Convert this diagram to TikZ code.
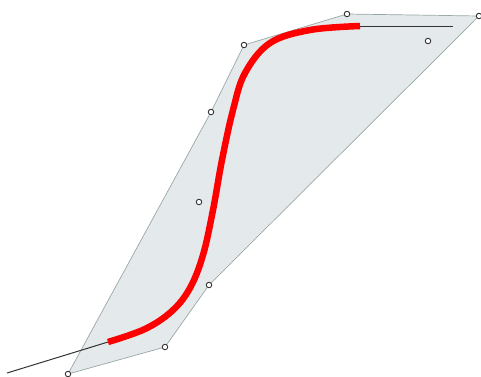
\documentclass[tikz,border=0pt]{standalone}
\usetikzlibrary{patterns}
\definecolor{hullfill}{RGB}{228,234,236}
\definecolor{hulledge}{RGB}{150,165,165}
\begin{document}
\begin{tikzpicture}[x=1pt,y=-1pt,
  ctrl/.style={circle,draw=black!80,fill=white,line width=0.9pt,inner sep=0pt,minimum size=5.5pt},
  hull/.style={draw=hulledge,line width=0.7pt,fill=hullfill},
  thincurve/.style={draw=black!80,line width=1pt},
  thickcurve/.style={draw=red,line width=6.5pt}]
\useasboundingbox (0,0) rectangle (481,376);
\coordinate (c0) at (68,374);
\coordinate (c1) at (165,347);
\coordinate (c2) at (209,285);
\coordinate (c3) at (199,202);
\coordinate (c4) at (211,112);
\coordinate (c5) at (244,45);
\coordinate (c6) at (347,14);
\coordinate (c7) at (428,41);
\coordinate (c8) at (479,16);
\path[hull] (c0) -- (c1) -- (c2) -- (c8) -- (c6) -- (c5) -- (c4) -- cycle;
\path[pattern=dots,pattern color=black!10] (c0) -- (c1) -- (c2) -- (c8) -- (c6) -- (c5) -- (c4) -- cycle;
\coordinate (s) at (7,373);
\coordinate (r0) at (108,342);
\coordinate (r1) at (360,26);
\coordinate (e) at (453,26);
\draw[thincurve] (s) -- (r0);
\draw[thincurve] (r1) -- (e);
\draw[thickcurve] plot[smooth,tension=0.6] coordinates {(108,342) (145,329) (172,311) (190,288) (203,255) (213,210) (222,160) (233,110) (245,73) (270,43) (310,30) (360,26)};
\foreach \i in {0,...,8} \node[ctrl] (p\i) at (c\i) {};
\end{tikzpicture}
\end{document}
